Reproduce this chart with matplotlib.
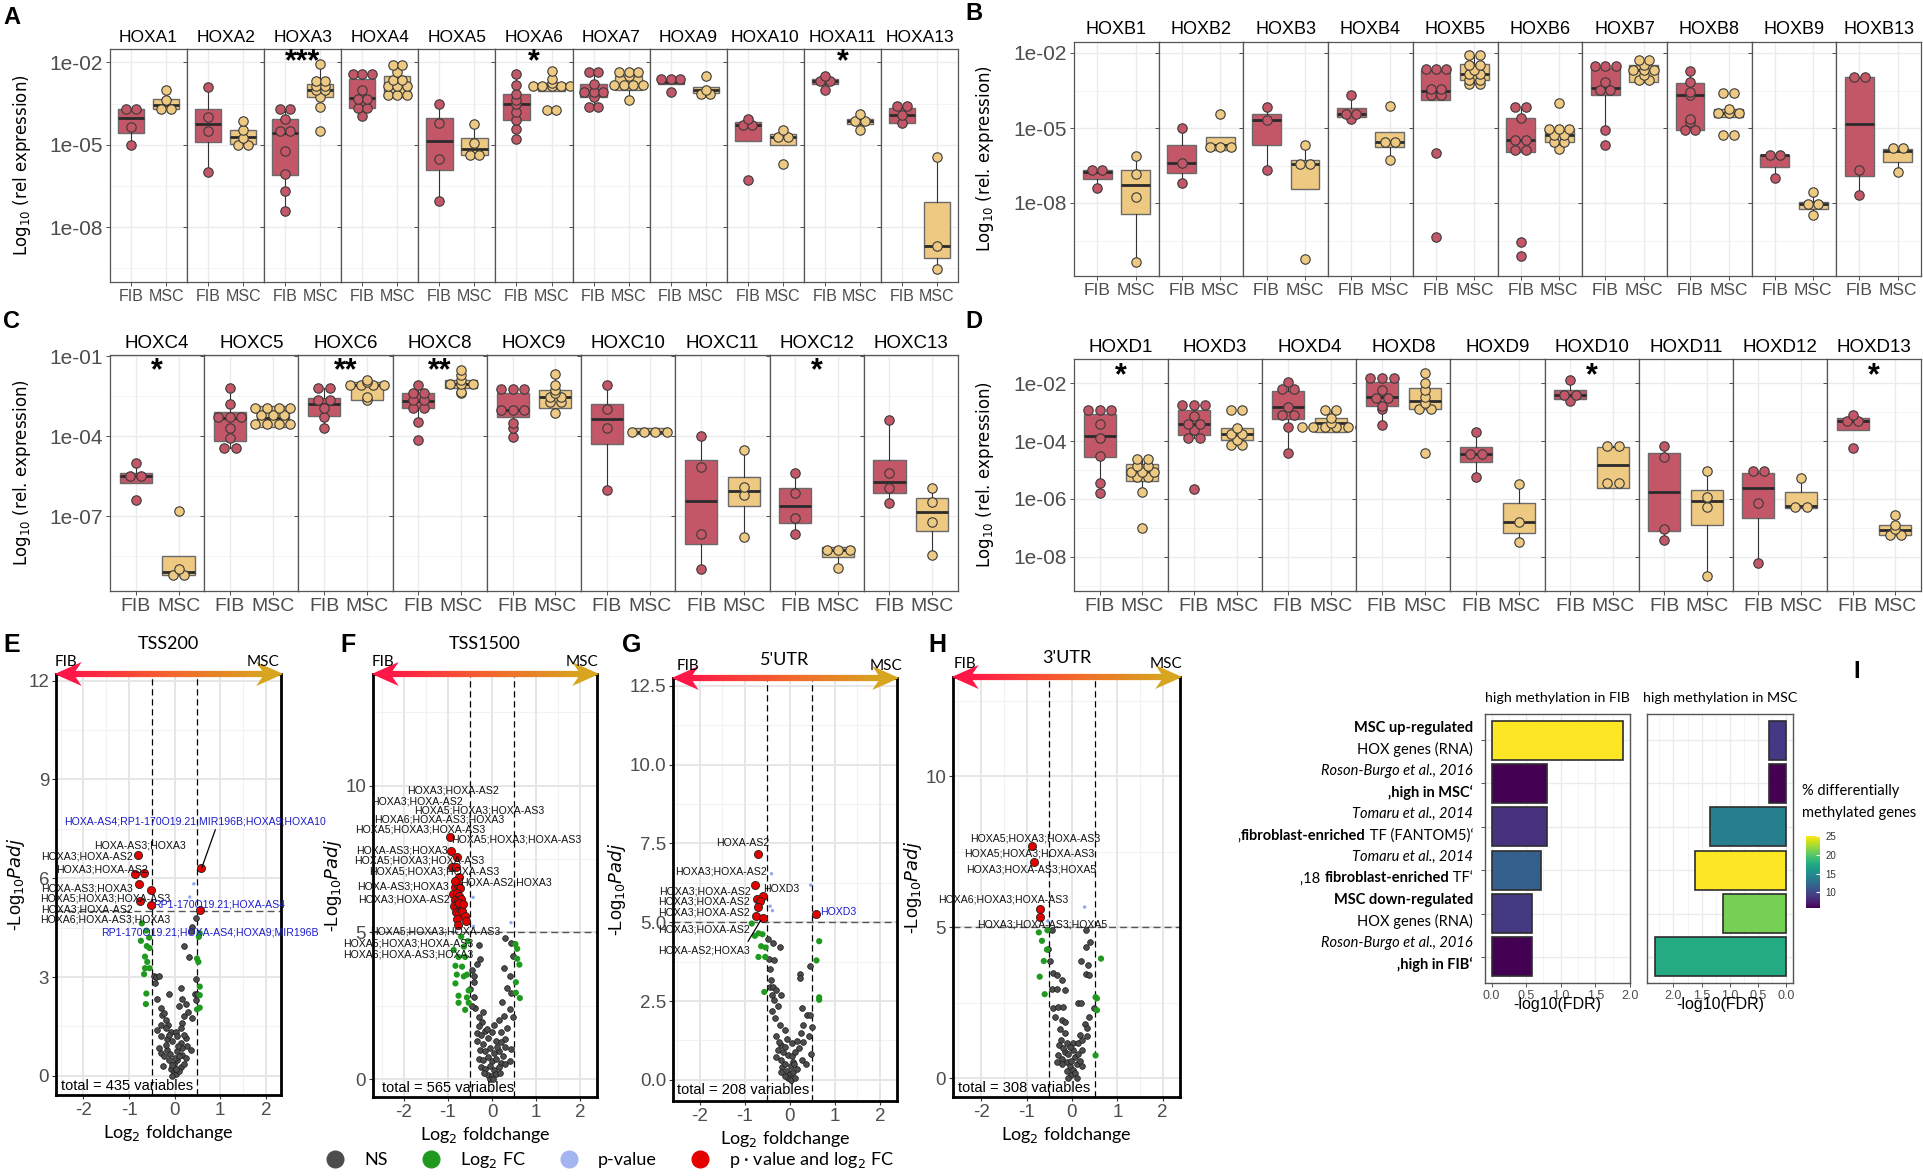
import numpy as np
import matplotlib
matplotlib.use("Agg")
import matplotlib.pyplot as plt
from matplotlib.lines import Line2D
from matplotlib.collections import LineCollection
from matplotlib.patches import Polygon
from matplotlib.colors import LinearSegmentedColormap, Normalize
import matplotlib.cm as cm

plt.rcParams['font.family'] = ['Liberation Sans', 'DejaVu Sans']

# ---------------- data: HOX expression, log10(rel. expression) ----------------
# box = [q1, median, q3]
A_genes = ["HOXA1", "HOXA2", "HOXA3", "HOXA4", "HOXA5", "HOXA6", "HOXA7", "HOXA9", "HOXA10", "HOXA11", "HOXA13"]
A_fib_box = [[-4.56, -4.02, -3.68], [-4.90, -4.26, -3.71], [-6.09, -4.56, -4.07], [-3.65, -3.29, -2.59],
             [-5.91, -4.88, -4.02], [-4.11, -3.52, -3.16], [-3.26, -3.07, -2.77], [-2.77, -2.71, -2.59],
             [-4.88, -4.29, -4.17], [-2.79, -2.68, -2.59], [-4.20, -3.93, -3.65]]
A_msc_box = [[-3.71, -3.54, -3.32], [-4.96, -4.72, -4.45], [-3.26, -2.99, -2.77], [-3.26, -2.87, -2.50],
             [-5.39, -5.15, -4.74], [-3.04, -2.87, -2.74], [-2.99, -2.83, -2.50], [-3.11, -3.01, -2.91],
             [-5.00, -4.70, -4.60], [-4.23, -4.13, -4.05], [-9.11, -8.68, -7.07]]
A_fib_pts = [[-3.68, -3.68, -4.35, -5.00],
             [-2.91, -3.99, -4.51, -6.00],
             [-3.68, -3.68, -4.07, -4.51, -4.51, -5.21, -6.06, -6.67, -7.40],
             [-2.43, -2.43, -2.43, -3.01, -3.32, -3.32, -3.65, -3.65, -3.95],
             [-3.50, -4.21, -5.51, -7.04],
             [-2.43, -2.83, -3.16, -3.38, -3.52, -3.80, -4.11, -4.41, -4.78],
             [-2.34, -2.34, -2.77, -3.07, -3.07, -3.07, -3.26, -3.62, -3.62],
             [-2.62, -2.62, -2.62, -3.07],
             [-4.05, -4.29, -4.29, -6.30],
             [-2.50, -2.68, -2.68, -3.01],
             [-3.60, -3.60, -3.93, -4.20]]
A_msc_pts = [[-2.99, -3.38, -3.68, -3.68],
             [-4.13, -4.45, -4.75, -5.00, -5.00],
             [-2.04, -2.68, -2.68, -2.87, -2.87, -3.01, -3.01, -3.26, -3.62, -4.48],
             [-2.10, -2.10, -2.34, -2.65, -2.65, -2.87, -2.87, -2.87, -3.20, -3.20, -3.20],
             [-4.26, -4.93, -5.39, -5.39],
             [-2.30, -2.59, -2.74, -2.87, -2.87, -2.87, -2.87, -2.87, -3.74, -3.74],
             [-2.34, -2.34, -2.34, -2.50, -2.83, -2.83, -2.83, -2.83, -3.38],
             [-2.50, -3.01, -3.16, -3.16],
             [-4.45, -4.70, -4.70, -5.70],
             [-3.87, -4.13, -4.13, -4.45],
             [-5.45, -8.68, -9.54]]
A_stars = {"HOXA3": "***", "HOXA6": "*", "HOXA11": "*"}

B_genes = ["HOXB1", "HOXB2", "HOXB3", "HOXB4", "HOXB5", "HOXB6", "HOXB7", "HOXB8", "HOXB9", "HOXB13"]
B_fib_box = [[-7.05, -6.76, -6.69], [-6.80, -6.40, -5.69], [-5.69, -4.67, -4.43], [-4.56, -4.43, -4.20],
             [-3.87, -3.52, -2.67], [-5.96, -5.49, -4.59], [-3.67, -3.39, -2.60], [-5.07, -3.69, -3.20],
             [-6.56, -6.09, -6.07], [-6.93, -4.85, -2.96]]
B_msc_box = [[-8.43, -7.29, -6.67], [-5.89, -5.69, -5.36], [-7.43, -6.45, -6.27], [-5.76, -5.56, -5.17],
             [-3.07, -2.85, -2.43], [-5.56, -5.29, -5.03], [-3.16, -2.69, -2.49], [-4.56, -4.40, -4.23],
             [-8.23, -8.05, -7.96], [-6.36, -5.92, -5.83]]
B_fib_pts = [[-6.69, -6.69, -7.40],
             [-5.00, -6.40, -7.20],
             [-4.16, -4.67, -6.69],
             [-3.69, -4.43, -4.43, -4.63],
             [-2.63, -2.63, -2.63, -3.43, -3.43, -3.69, -3.69, -6.00, -9.36],
             [-4.16, -4.16, -4.59, -5.49, -5.49, -5.87, -5.87, -9.56, -10.13],
             [-2.53, -2.53, -2.53, -3.16, -3.49, -3.49, -5.07, -5.69],
             [-2.72, -3.16, -3.56, -3.69, -4.63, -4.76, -5.07, -5.07],
             [-6.07, -6.07, -6.99],
             [-2.96, -2.96, -6.69, -7.69]]
B_msc_pts = [[-6.13, -6.85, -7.76, -10.36],
             [-4.45, -5.76, -5.76, -5.76],
             [-5.67, -6.45, -6.45, -10.23],
             [-4.13, -5.56, -5.56, -6.27],
             [-2.09, -2.09, -2.47, -2.47, -2.67, -2.85, -2.85, -3.07, -3.07, -3.25, -3.25],
             [-4.00, -5.03, -5.03, -5.03, -5.29, -5.29, -5.56, -5.56, -5.83],
             [-2.29, -2.29, -2.49, -2.69, -2.69, -2.69, -2.89, -3.07, -3.07],
             [-3.60, -3.60, -4.23, -4.40, -4.40, -4.40, -5.29, -5.29],
             [-7.56, -8.05, -8.05, -8.49],
             [-5.79, -5.79, -6.76]]
B_stars = {}

C_genes = ["HOXC4", "HOXC5", "HOXC6", "HOXC8", "HOXC9", "HOXC10", "HOXC11", "HOXC12", "HOXC13"]
C_fib_box = [[-5.75, -5.50, -5.40], [-4.18, -3.34, -3.09], [-3.24, -2.78, -2.56], [-2.93, -2.68, -2.38],
             [-3.30, -3.03, -2.40], [-4.28, -3.36, -2.78], [-8.03, -6.44, -4.88], [-7.25, -6.63, -5.96],
             [-6.15, -5.74, -4.90]]
C_msc_box = [[-9.21, -9.09, -8.49], [-3.65, -3.34, -2.88], [-2.65, -2.09, -1.96], [-2.21, -2.05, -1.90],
             [-2.96, -2.55, -2.28], [-3.93, -3.84, -3.71], [-6.63, -6.06, -5.53], [-8.53, -8.28, -8.15],
             [-7.55, -6.86, -6.34]]
C_fib_pts = [[-5.00, -5.50, -5.50, -6.40],
             [-2.21, -2.78, -3.28, -3.28, -3.28, -3.71, -4.09, -4.46, -4.46],
             [-2.21, -2.21, -2.65, -2.65, -2.96, -3.28, -3.71],
             [-2.09, -2.38, -2.38, -2.65, -2.65, -2.93, -2.93, -3.46, -4.13],
             [-2.25, -2.25, -2.25, -3.03, -3.03, -3.03, -3.50, -3.71, -4.03],
             [-2.09, -3.00, -3.71, -6.03],
             [-4.00, -5.15, -7.69, -9.00],
             [-5.40, -6.15, -7.09, -7.69],
             [-3.40, -5.40, -5.96, -6.50]]
C_msc_pts = [[-6.81, -9.00, -9.21, -9.21],
             [-2.93, -2.93, -2.93, -2.93, -3.21, -3.21, -3.21, -3.53, -3.53, -3.53, -3.53],
             [-1.88, -1.96, -2.09, -2.09, -2.09, -2.09, -2.53, -2.65],
             [-1.53, -1.71, -1.90, -2.05, -2.05, -2.05, -2.34, -2.40],
             [-1.69, -2.09, -2.28, -2.40, -2.55, -2.55, -2.71, -2.71, -3.13],
             [-3.84, -3.84, -3.84, -3.84],
             [-4.53, -5.90, -6.21, -7.78],
             [-8.28, -8.28, -8.28, -8.93],
             [-5.96, -6.46, -7.21, -8.46]]
C_stars = {"HOXC4": "*", "HOXC6": "**", "HOXC8": "**", "HOXC12": "*"}

D_genes = ["HOXD1", "HOXD3", "HOXD4", "HOXD8", "HOXD9", "HOXD10", "HOXD11", "HOXD12", "HOXD13"]
D_fib_box = [[-4.54, -3.82, -3.07], [-3.79, -3.41, -2.92], [-3.25, -2.81, -2.27], [-2.78, -2.48, -1.97],
             [-4.71, -4.45, -4.21], [-2.55, -2.40, -2.25], [-7.13, -5.78, -4.42], [-6.67, -5.63, -5.09],
             [-3.61, -3.30, -3.19]]
D_msc_box = [[-5.37, -5.06, -4.80], [-3.96, -3.75, -3.56], [-3.67, -3.36, -3.21], [-2.90, -2.63, -2.17],
             [-7.17, -6.81, -6.15], [-5.61, -4.83, -4.21], [-6.90, -6.09, -5.69], [-6.33, -6.24, -5.78],
             [-7.25, -7.07, -6.90]]
D_fib_pts = [[-2.92, -2.92, -2.92, -3.42, -3.90, -4.51, -5.44, -5.81],
             [-2.75, -2.75, -2.75, -3.15, -3.41, -3.41, -3.61, -3.90, -3.90, -5.67],
             [-1.94, -2.21, -2.21, -2.81, -3.10, -3.10, -3.52, -4.42],
             [-1.83, -1.83, -1.83, -2.23, -2.52, -2.52, -2.78, -2.90, -3.44],
             [-3.70, -4.45, -4.45, -5.23],
             [-1.88, -2.40, -2.40, -2.60],
             [-4.17, -4.54, -7.05, -7.42],
             [-5.02, -5.02, -6.15, -8.23],
             [-3.10, -3.30, -3.30, -4.25]]
D_msc_pts = [[-4.63, -4.63, -4.86, -4.86, -5.06, -5.06, -5.06, -5.25, -5.25, -5.75, -7.02],
             [-2.92, -2.92, -3.56, -3.75, -3.75, -3.96, -4.13, -4.13],
             [-2.92, -2.92, -3.21, -3.36, -3.52, -3.52, -3.52, -3.52, -3.52, -3.52],
             [-1.65, -1.98, -2.25, -2.48, -2.69, -2.90, -2.90, -4.40],
             [-5.48, -6.81, -7.51],
             [-4.17, -4.17, -5.46, -5.46],
             [-5.02, -5.92, -6.27, -8.67],
             [-5.29, -6.27, -6.27],
             [-6.56, -6.90, -7.05, -7.25, -7.25]]
D_stars = {"HOXD1": "*", "HOXD10": "*", "HOXD13": "*"}

# ---------------- data: volcano plots (log2 FC, -log10 padj) ----------------
E_ns = [(-0.45, 3.03), (-0.40, 3.00), (-0.34, 3.03), (-0.43, 2.82), (-0.38, 2.34), (-0.31, 2.07), (-0.28, 1.85),
        (-0.23, 1.91), (-0.20, 1.70), (-0.12, 2.50), (-0.15, 1.55), (0.13, 2.66), (0.17, 2.34), (0.09, 2.13),
        (0.24, 2.18), (0.20, 1.81), (0.17, 1.60), (0.30, 1.95), (0.39, 1.76), (0.46, 4.79), (0.39, 4.52),
        (0.35, 4.41), (0.20, 3.94), (0.31, 3.62), (0.46, 2.93), (0.44, 2.50), (0.49, 2.50), (0.46, 2.29),
        (-0.31, 1.54), (-0.20, 1.44), (-0.09, 1.33), (0.02, 1.33), (0.13, 1.44), (0.06, 1.22), (-0.16, 1.12),
        (-0.05, 1.06), (0.13, 1.01), (0.28, 0.90), (0.35, 0.80), (0.25, 1.15), (-0.31, 0.69), (-0.23, 0.59),
        (-0.12, 0.48), (-0.01, 0.37), (0.06, 0.48), (0.17, 0.64), (0.24, 0.53), (-0.09, 0.21), (-0.01, 0.11),
        (0.02, 0.05), (-0.16, 0.80), (-0.34, 0.85), (0.13, 0.27), (0.09, 0.16), (-0.05, 0.32), (-0.20, 0.95),
        (0.05, 0.75), (0.15, 0.85), (-0.10, 0.65), (0.00, 0.55), (0.10, 0.60), (-0.25, 0.30), (0.20, 0.35),
        (-0.05, 0.00), (0.03, 0.20), (0.08, 0.90), (-0.12, 1.25), (0.20, 1.25), (-0.30, 1.20), (-0.38, 1.40)]
E_fc = [(-0.72, 4.63), (-0.62, 4.41), (-0.74, 4.10), (-0.56, 4.20), (-0.61, 3.94), (-0.55, 3.88), (-0.65, 3.62),
        (-0.60, 3.46), (-0.65, 3.27), (-0.55, 3.27), (-0.67, 3.09), (-0.62, 2.50), (-0.63, 2.18), (0.53, 4.22),
        (0.55, 4.33), (0.49, 3.56), (0.52, 3.46), (0.55, 2.71), (0.55, 2.45), (0.55, 2.07), (0.49, 2.02)]
E_pv = [(0.42, 5.83), (0.33, 5.43)]
E_sig = [(-0.81, 6.70), (-0.87, 6.12), (-0.68, 6.15), (-0.78, 5.83), (-0.52, 5.64), (-0.77, 5.32),
         (-0.51, 5.19), (0.57, 6.30), (0.55, 5.05)]
E_labels = [(0.45, 7.71, "HOXA-AS4;RP1-170O19.21;MIR196B;HOXA9;HOXA10", "blue"),
            (-0.75, 6.99, "HOXA-AS3;HOXA3", "black"),
            (-1.93, 6.65, "HOXA3;HOXA-AS2", "black"),
            (-1.60, 6.26, "HOXA3;HOXA-AS2", "black"),
            (-1.93, 5.69, "HOXA-AS3;HOXA3", "black"),
            (-1.51, 5.37, "HOXA5;HOXA3;HOXA-AS3", "black"),
            (-1.93, 5.05, "HOXA3;HOXA-AS2", "black"),
            (-1.51, 4.76, "HOXA6;HOXA-AS3;HOXA3", "black"),
            (0.98, 5.19, "RP1-170O19.21;HOXA-AS4", "blue"),
            (0.78, 4.36, "RP1-170O19.21;HOXA-AS4;HOXA9;MIR196B", "blue")]
E_lines = [((0.89, 7.47), (0.59, 6.30))]

F_ns = [(-0.30, 4.57), (-0.27, 4.10), (-0.34, 3.92), (-0.42, 3.50), (-0.49, 3.08), (-0.42, 2.78), (-0.38, 2.42),
        (-0.30, 2.12), (-0.23, 1.94), (-0.15, 1.64), (-0.34, 1.58), (0.30, 4.81), (0.44, 4.63), (0.48, 4.20),
        (0.27, 3.78), (0.33, 3.12), (0.44, 2.94), (0.23, 2.64), (0.40, 2.40), (0.28, 2.16), (0.48, 2.10),
        (0.33, 1.74), (0.44, 1.02), (0.30, 1.38), (0.40, 0.60), (-0.45, 3.70), (-0.40, 3.30), (-0.45, 2.50),
        (-0.20, 2.30), (0.15, 2.00), (0.40, 3.50), (0.20, 1.60), (-0.30, 1.80), (-0.25, 1.50), (-0.35, 1.30),
        (-0.20, 1.20), (-0.10, 1.40), (0.00, 1.60), (0.10, 1.30), (0.20, 1.25), (0.30, 1.10), (-0.28, 1.00),
        (-0.15, 0.95), (-0.05, 1.05), (0.05, 0.90), (0.15, 0.95), (0.25, 0.80), (-0.30, 0.70), (-0.20, 0.65),
        (-0.10, 0.75), (0.00, 0.60), (0.10, 0.70), (0.20, 0.55), (0.30, 0.50), (-0.25, 0.40), (-0.15, 0.35),
        (-0.05, 0.45), (0.05, 0.30), (0.15, 0.40), (-0.10, 0.15), (0.00, 0.10), (0.08, 0.18), (-0.04, 0.02),
        (0.03, 0.00), (-0.18, 0.20), (0.18, 0.20), (0.12, 1.10), (-0.12, 1.70), (0.05, 1.85)]
F_fc = [(-0.87, 4.40), (-0.64, 4.51), (-0.76, 4.16), (-0.61, 4.16), (-0.83, 3.86), (-0.68, 3.83), (-0.57, 3.56),
        (-0.80, 3.56), (-0.64, 3.50), (-0.83, 3.26), (-0.53, 3.02), (-0.76, 2.84), (-0.57, 2.78), (-0.53, 2.60),
        (-0.76, 2.60), (-0.61, 2.36), (-0.55, 4.70), (-0.70, 4.85), (0.57, 4.44), (0.57, 4.10), (0.62, 3.90),
        (0.54, 3.30), (0.54, 2.94), (0.63, 2.76), (0.53, 4.60)]
F_pv = [(-0.43, 6.19), (-0.42, 5.20), (0.43, 5.33)]
F_sig = [(-0.95, 8.25), (-0.92, 7.76), (-0.80, 7.57), (-0.91, 7.22), (-0.81, 7.22), (-0.76, 6.90), (-0.85, 6.55),
         (-0.78, 6.60), (-0.72, 6.50), (-0.88, 6.30), (-0.80, 6.35), (-0.74, 6.25), (-0.84, 6.10), (-0.77, 6.05),
         (-0.70, 6.12), (-0.86, 5.90), (-0.79, 5.85), (-0.72, 5.92), (-0.82, 5.70), (-0.75, 5.65), (-0.68, 5.72),
         (-0.80, 5.45), (-0.62, 5.55), (-0.78, 5.25), (-0.60, 5.40), (-0.83, 6.75), (-0.74, 6.00), (-0.66, 5.95)]
F_labels = [(-0.88, 9.84, "HOXA3;HOXA-AS2", "black"),
            (-1.70, 9.47, "HOXA3;HOXA-AS2", "black"),
            (-0.29, 9.15, "HOXA5;HOXA3;HOXA-AS3", "black"),
            (-1.20, 8.84, "HOXA6;HOXA-AS3;HOXA3", "black"),
            (-1.62, 8.50, "HOXA5;HOXA3;HOXA-AS3", "black"),
            (0.54, 8.16, "HOXA5;HOXA3;HOXA-AS3", "black"),
            (-2.05, 7.78, "HOXA-AS3;HOXA3", "black"),
            (-1.64, 7.44, "HOXA5;HOXA3;HOXA-AS3", "black"),
            (-1.30, 7.06, "HOXA5;HOXA3;HOXA-AS3", "black"),
            (0.32, 6.70, "HOXA-AS2;HOXA3", "black"),
            (-2.01, 6.56, "HOXA-AS3;HOXA3", "black"),
            (-1.99, 6.11, "HOXA3;HOXA-AS2", "black"),
            (-1.28, 5.03, "HOXA5;HOXA3;HOXA-AS3", "black"),
            (-1.90, 4.63, "HOXA5;HOXA3;HOXA-AS3", "black"),
            (-1.89, 4.26, "HOXA6;HOXA-AS3;HOXA3", "black")]
F_lines = []

G_ns = [(-0.48, 4.46), (-0.38, 4.35), (-0.22, 4.20), (-0.46, 3.85), (-0.36, 3.79), (-0.44, 3.51), (-0.43, 3.18),
        (-0.44, 2.96), (-0.37, 2.96), (-0.31, 2.85), (-0.41, 2.68), (-0.19, 2.68), (-0.26, 2.35), (-0.33, 1.96),
        (-0.22, 1.74), (-0.11, 1.57), (-0.30, 1.40), (-0.07, 1.29), (0.04, 1.18), (0.15, 1.24), (0.26, 2.29),
        (0.37, 2.07), (0.44, 2.07), (0.30, 1.74), (0.48, 1.68), (0.43, 1.40), (0.44, 3.62), (0.22, 3.35),
        (0.22, 3.24), (0.46, 0.82), (0.26, 0.62), (0.07, 0.57), (-0.19, 0.62), (-0.30, 0.73), (-0.26, 0.96),
        (-0.17, 0.40), (-0.07, 0.29), (0.00, 0.18), (-0.04, 0.07), (0.03, 0.01), (0.07, 0.24), (0.15, 0.35),
        (-0.11, 0.12), (-0.19, 0.24), (0.11, 0.07), (-0.15, 0.90), (-0.05, 0.80), (0.05, 0.75), (0.12, 0.90),
        (-0.20, 1.10), (-0.10, 1.05), (0.20, 1.00), (0.30, 1.20), (0.35, 0.50), (-0.12, 0.50), (0.02, 0.45),
        (0.10, 0.50), (-0.25, 1.20), (0.25, 1.50), (-0.40, 2.20), (-0.36, 2.55)]
G_fc = [(-0.85, 4.96), (-0.70, 4.65), (-0.61, 4.62), (-0.78, 4.57), (-0.64, 4.24), (-0.54, 4.20), (-0.70, 3.90),
        (-0.55, 3.90), (-0.57, 2.79), (0.65, 4.40), (0.59, 3.79), (0.65, 2.62), (0.65, 2.54)]
G_pv = [(-0.41, 6.54), (-0.44, 5.51), (-0.39, 5.37), (0.46, 6.18)]
G_sig = [(-0.72, 7.18), (-0.77, 6.18), (-0.74, 5.74), (-0.60, 5.82), (-0.66, 5.68), (-0.72, 5.48), (-0.76, 5.20),
         (-0.60, 5.15), (0.59, 5.27)]
G_labels = [(-1.06, 7.51, "HOXA-AS2", "black"),
            (-1.53, 6.62, "HOXA3;HOXA-AS2", "black"),
            (-1.89, 5.97, "HOXA3;HOXA-AS2", "black"),
            (-0.19, 6.06, "HOXD3", "black"),
            (-1.90, 5.66, "HOXA3;HOXA-AS2", "black"),
            (-1.92, 5.31, "HOXA3;HOXA-AS2", "black"),
            (-1.92, 4.78, "HOXA3;HOXA-AS2", "black"),
            (-1.91, 4.12, "HOXA-AS2;HOXA3", "black"),
            (1.08, 5.34, "HOXD3", "blue")]
G_lines = [((-0.93, 4.40), (-0.65, 5.06))]

H_ns = [(-0.45, 4.90), (-0.53, 4.28), (-0.49, 3.88), (-0.41, 3.47), (-0.33, 3.41), (-0.21, 3.26), (-0.45, 2.95),
        (-0.34, 2.95), (-0.15, 2.93), (-0.41, 2.31), (-0.30, 2.37), (-0.19, 2.37), (-0.38, 2.02), (-0.23, 1.91),
        (-0.15, 1.85), (-0.27, 1.62), (-0.15, 1.50), (-0.24, 1.27), (-0.29, 1.10), (-0.12, 1.15), (0.03, 1.15),
        (0.14, 1.15), (0.22, 1.27), (0.33, 1.39), (0.31, 4.92), (0.31, 4.34), (0.40, 4.51), (0.20, 3.88),
        (0.35, 3.76), (0.31, 3.45), (0.37, 3.41), (0.13, 2.49), (0.20, 2.49), (0.37, 2.02), (0.48, 2.31),
        (0.29, 1.79), (0.33, 1.67), (0.18, 1.44), (-0.30, 0.75), (-0.21, 0.63), (-0.12, 0.52), (-0.04, 0.40),
        (0.03, 0.28), (-0.01, 0.11), (0.07, 0.17), (0.11, 0.46), (0.18, 0.57), (0.07, 0.69), (-0.15, 0.86),
        (-0.08, 0.78), (0.14, 0.81), (0.03, 0.92), (-0.23, 0.46), (-0.10, 0.23), (-0.04, 1.04), (-0.19, 0.98),
        (0.22, 0.92), (-0.34, 0.52), (0.22, 0.40), (-0.01, 0.57), (0.11, 0.00), (-0.08, 0.00)]
H_fc = [(-0.73, 4.83), (-0.54, 4.90), (-0.66, 4.55), (-0.55, 4.26), (-0.62, 3.88), (-0.71, 3.36), (-0.60, 2.78),
        (0.64, 3.96), (0.52, 2.68), (0.55, 2.64), (0.55, 2.25), (0.52, 0.75)]
H_pv = [(0.28, 5.67), (-0.53, 5.21)]
H_sig = [(-0.88, 7.68), (-0.84, 7.18), (-0.71, 5.62), (-0.70, 5.33)]
H_labels = [(-0.80, 7.94, "HOXA5;HOXA3;HOXA-AS3", "black"),
            (-0.94, 7.45, "HOXA5;HOXA3;HOXA-AS3", "black"),
            (-0.90, 6.93, "HOXA3;HOXA-AS3;HOXA5", "black"),
            (-1.51, 5.91, "HOXA6;HOXA3;HOXA-AS3", "black"),
            (-0.65, 5.10, "HOXA3;HOXA-AS3;HOXA5", "black")]
H_lines = []

# ---------------- data: enrichment bars (panel I) ----------------
I_fib_fdr = [1.90, 0.80, 0.80, 0.71, 0.58, 0.58]
I_fib_pct = [25.0, 5.8, 8.5, 11.5, 9.0, 5.8]
I_msc_fdr = [0.30, 0.31, 1.35, 1.61, 1.12, 2.32]
I_msc_pct = [9.0, 5.8, 14.0, 25.0, 21.0, 17.5]
I_lines = [[("MSC up-regulated", "bold", "normal")],
           [("HOX genes (RNA)", "normal", "normal")],
           [("Roson-Burgo et al., 2016", "normal", "italic")],
           [("\u201ahigh in MSC\u2018", "bold", "normal")],
           [("Tomaru et al., 2014", "normal", "italic")],
           [("\u201a", "normal", "normal"), ("fibroblast-enriched", "bold", "normal"), (" TF (FANTOM5)\u2018", "normal", "normal")],
           [("Tomaru et al., 2014", "normal", "italic")],
           [("\u201a18 ", "normal", "normal"), ("fibroblast-enriched", "bold", "normal"), (" TF\u2018", "normal", "normal")],
           [("MSC down-regulated", "bold", "normal")],
           [("HOX genes (RNA)", "normal", "normal")],
           [("Roson-Burgo et al., 2016", "normal", "italic")],
           [("\u201ahigh in FIB\u2018", "bold", "normal")]]

# ---------------- figure ----------------
W, H = 1923, 1176
fig = plt.figure(figsize=(W / 100, H / 100), dpi=100)
fig.patch.set_facecolor("white")


def px_axes(l, t, r, b):
    return fig.add_axes([l / W, 1 - b / H, (r - l) / W, (b - t) / H])


def fig_text(x, y, s, **kw):
    return fig.text(x / W, 1 - y / H, s, **kw)


FIB_COL = "#C45767"
MSC_COL = "#EEC981"
GRID = "#EBEBEB"


def box_stats(q, pts):
    q1, med, q3 = q
    iqr = q3 - q1
    inside = [p for p in pts if q1 - 1.5 * iqr <= p <= q3 + 1.5 * iqr]
    return dict(q1=q1, med=med, q3=q3, whislo=min(inside + [q1]), whishi=max(inside + [q3]), fliers=[])


def dots(ax, x0, pts, color, d=0.27):
    vals, counts = np.unique(np.round(pts, 2), return_counts=True)
    for v, c in zip(vals, counts):
        xs = x0 + (np.arange(c) - (c - 1) / 2) * d
        ax.scatter(xs, [v] * c, s=46, c=color, edgecolors="#3A3A3A", linewidths=0.8, zorder=4)


def facet_panel(l, t, r, b, genes, fib_q, msc_q, fib_p, msc_p, ylim, yticks, yminor, stars, star_y,
                strip_y, strip_fs, xt_fs, ylab, ylab_x):
    n = len(genes)
    w = (r - l) / n
    for i, g in enumerate(genes):
        ax = px_axes(l + i * w, t, l + (i + 1) * w, b)
        ax.set_xlim(0.4, 2.6)
        ax.set_ylim(*ylim)
        for y in yminor:
            ax.axhline(y, color="#F3F3F3", lw=0.6, zorder=0)
        for y in yticks:
            ax.axhline(y, color=GRID, lw=1.0, zorder=0)
        for x in (1, 2):
            ax.axvline(x, color=GRID, lw=1.0, zorder=0)
        for x0, q, p, col in ((1, fib_q[i], fib_p[i], FIB_COL), (2, msc_q[i], msc_p[i], MSC_COL)):
            ax.bxp([box_stats(q, p)], positions=[x0], widths=0.75, patch_artist=True, showfliers=False,
                   showcaps=False,
                   boxprops=dict(facecolor=col, edgecolor="#6A6A6A", linewidth=1.0),
                   medianprops=dict(color="#2B2B2B", linewidth=2.0),
                   whiskerprops=dict(color="#333333", linewidth=0.8), zorder=2)
            dots(ax, x0, p, col)
        if g in stars:
            ax.text(1.5, star_y, stars[g], ha="center", va="center", fontsize=22, fontweight="bold", zorder=5)
        ax.set_xticks([1, 2])
        ax.set_xticklabels(["FIB", "MSC"], fontsize=xt_fs, color="#4D4D4D")
        ax.set_yticks(yticks)
        if i == 0:
            ax.set_yticklabels(["1e-%02d" % (-v) for v in yticks], fontsize=15, color="#4D4D4D")
        else:
            ax.set_yticklabels([])
            ax.tick_params(axis="y", length=0)
        ax.tick_params(axis="both", color="#4D4D4D", width=0.7, length=3, pad=2)
        for s in ax.spines.values():
            s.set_color("#555555")
            s.set_linewidth(0.9)
        fig_text(l + (i + 0.5) * w, strip_y, g, ha="center", va="center", fontsize=strip_fs)
    fig_text(ylab_x, (t + b) / 2, ylab, rotation=90, ha="center", va="center", fontsize=12,
             family="DejaVu Sans")


facet_panel(110, 49, 958, 282, A_genes, A_fib_box, A_msc_box, A_fib_pts, A_msc_pts, (-10.0, -1.51),
            [-2, -5, -8], [-3.5, -6.5, -9.5], A_stars, -2.0, 37, 12.5, 11.5,
            "Log$_{10}$ (rel expression)", 22)
facet_panel(1074, 42, 1921, 276, B_genes, B_fib_box, B_msc_box, B_fib_pts, B_msc_pts, (-10.92, -1.56),
            [-2, -5, -8], [-3.5, -6.5, -9.5], B_stars, -1.9, 30, 13, 12.5,
            "Log$_{10}$ (rel. expression)", 985)
facet_panel(110, 355, 958, 591, C_genes, C_fib_box, C_msc_box, C_fib_pts, C_msc_pts, (-9.81, -0.96),
            [-1, -4, -7], [-2.5, -5.5, -8.5], C_stars, -1.58, 343, 13.5, 14,
            "Log$_{10}$ (rel. expression)", 22)
facet_panel(1074, 359, 1921, 591, D_genes, D_fib_box, D_msc_box, D_fib_pts, D_msc_pts, (-9.19, -1.16),
            [-2, -4, -6, -8], [-3, -5, -7, -9], D_stars, -1.77, 348, 13.5, 14,
            "Log$_{10}$ (rel. expression)", 985)

for letter, x, y in (("A", 3, 17), ("B", 965, 14), ("C", 3, 322), ("D", 965, 322)):
    fig_text(x, y, letter, fontsize=17, fontweight="bold", va="center", ha="left")

# ---------------- volcano plots ----------------
ARROW_CMAP = LinearSegmentedColormap.from_list("arrow", ["#FF1747", "#F4632E", "#D7A51F"])


def top_arrow(ax, l, t, r, b):
    aw, ah = r - l, b - t
    hl, hh = 27 / aw, 12 / ah
    xl, xr = -0.006, 1.01
    xs = np.linspace(xl + hl * 0.6, xr - hl * 0.6, 90)
    segs = [[(xs[k], 1.0), (xs[k + 1], 1.0)] for k in range(len(xs) - 1)]
    lc = LineCollection(segs, colors=ARROW_CMAP(np.linspace(0, 1, len(segs))), linewidths=4.5,
                        transform=ax.transAxes, clip_on=False, zorder=8, capstyle="butt")
    ax.add_collection(lc, autolim=False)
    for tip, sgn, c in ((xl, 1, ARROW_CMAP(0.0)), (xr, -1, ARROW_CMAP(1.0))):
        ax.add_patch(Polygon([(tip, 1.0), (tip + sgn * hl, 1.0 + hh), (tip + sgn * hl * 0.7, 1.0),
                              (tip + sgn * hl, 1.0 - hh)], closed=True, facecolor=c, edgecolor="none",
                             transform=ax.transAxes, clip_on=False, zorder=9))


def volcano(l, t, r, b, xlim, ylim, yticks, ytl, yminor, ns, fc, pv, sig, labels, lines, total,
            title, title_y, fib_x, msc_x, lab_y):
    ax = px_axes(l, t, r, b)
    ax.set_xlim(*xlim)
    ax.set_ylim(*ylim)
    for x in (-2.5, -1.5, -0.5, 0.5, 1.5):
        ax.axvline(x, color="#F2F2F2", lw=0.8, zorder=0)
    for y in yminor:
        ax.axhline(y, color="#F2F2F2", lw=0.8, zorder=0)
    for x in (-2, -1, 0, 1, 2):
        ax.axvline(x, color="#E6E6E6", lw=1.4, zorder=0)
    for y in yticks:
        ax.axhline(y, color="#E6E6E6", lw=1.4, zorder=0)
    ax.axvline(-0.5, color="black", lw=0.9, ls=(0, (5, 3)), zorder=1)
    ax.axvline(0.5, color="black", lw=0.9, ls=(0, (5, 3)), zorder=1)
    ax.axhline(5, color="#555555", lw=1.0, ls=(0, (5, 3)), zorder=1)
    ns, fc, pv, sig = (np.array(a) for a in (ns, fc, pv, sig))
    ax.scatter(ns[:, 0], ns[:, 1], s=17, c="#4D4D4D", edgecolors="#1A1A1A", linewidths=0.5, zorder=3)
    ax.scatter(fc[:, 0], fc[:, 1], s=20, c="#1F9A1F", edgecolors="none", zorder=3)
    ax.scatter(pv[:, 0], pv[:, 1], s=6, c="#92A8EE", edgecolors="none", zorder=3)
    ax.scatter(sig[:, 0], sig[:, 1], s=34, c="#E50000", edgecolors="#222222", linewidths=0.6, zorder=4)
    for (x0, y0), (x1, y1) in lines:
        ax.plot([x0, x1], [y0, y1], color="black", lw=0.9, zorder=5)
    for x, y, s, c in labels:
        ax.text(x, y, s, ha="center", va="center", fontsize=7.6, color="#1C1CCC" if c == "blue" else "#111111",
                zorder=6, clip_on=False)
    ax.text(-2.5, -0.32, "total = %d variables" % total, ha="left", va="center", fontsize=10.5, zorder=6)
    ax.set_xticks([-2, -1, 0, 1, 2])
    ax.set_xticklabels(["-2", "-1", "0", "1", "2"], fontsize=13.5, color="#4D4D4D")
    ax.set_yticks(yticks)
    ax.set_yticklabels(ytl, fontsize=13.5, color="#4D4D4D")
    ax.tick_params(axis="both", color="#333333", width=0.8, length=3, pad=2)
    for s in ax.spines.values():
        s.set_color("black")
        s.set_linewidth(2.0)
    ax.set_xlabel("Log$_2$ foldchange", fontsize=13, family=["Lato", "DejaVu Sans"], labelpad=3)
    ax.set_ylabel("-Log$_{10}$$\\it{Padj}$", fontsize=13, labelpad=1)
    top_arrow(ax, l, t, r, b)
    fig_text((l + r) / 2, title_y, title, ha="center", va="center", fontsize=13, family=["Lato", "DejaVu Sans"])
    fig_text(fib_x, lab_y, "FIB", ha="center", va="center", fontsize=11, family=["Lato", "DejaVu Sans"])
    fig_text(msc_x, lab_y, "MSC", ha="center", va="center", fontsize=11, family=["Lato", "DejaVu Sans"])
    return ax


volcano(56, 674, 281, 1095, (-2.6, 2.33), (-0.58, 12.2), [0, 3, 6, 9, 12], ["0", "3", "6", "9", "12"],
        [1.5, 4.5, 7.5, 10.5], E_ns, E_fc, E_pv, E_sig, E_labels, E_lines, 435, "TSS200", 644, 66, 263, 662)
volcano(373, 674, 597, 1097, (-2.7, 2.38), (-0.61, 13.8), [0, 5, 10], ["0", "5", "10"],
        [2.5, 7.5, 12.5], F_ns, F_fc, F_pv, F_sig, F_labels, F_lines, 565, "TSS1500", 644, 383, 582, 662)
volcano(673, 678, 897, 1101, (-2.6, 2.38), (-0.67, 12.75), [0, 2.5, 5, 7.5, 10, 12.5],
        ["0.0", "2.5", "5.0", "7.5", "10.0", "12.5"], [1.25, 3.75, 6.25, 8.75, 11.25],
        G_ns, G_fc, G_pv, G_sig, G_labels, G_lines, 208, "5'UTR", 660, 688, 886, 666)
volcano(953, 677, 1180, 1097, (-2.62, 2.38), (-0.63, 13.3), [0, 5, 10], ["0", "5", "10"],
        [2.5, 7.5, 12.5], H_ns, H_fc, H_pv, H_sig, H_labels, H_lines, 308, "3'UTR", 658, 965, 1166, 664)

for letter, x, y in (("E", 3, 645), ("F", 340, 645), ("G", 622, 645), ("H", 928, 645)):
    fig_text(x, y, letter, fontsize=18, fontweight="bold", va="center", ha="left")

leg_handles = [Line2D([], [], ls="", marker="o", markersize=12, markerfacecolor=c, markeredgecolor=c)
               for c in ("#4D4D4D", "#1F9A1F", "#A3B4F0", "#E50000")]
fig.legend(leg_handles, ["NS", "Log$_2$ FC", "p-value", "p \u00b7 value and log$_2$ FC"], loc="center",
           bbox_to_anchor=(606 / W, 1 - 1160 / H), ncol=4, frameon=False,
           prop=dict(family=["Lato", "DejaVu Sans"], size=13), handletextpad=0.6, columnspacing=1.4)

# ---------------- panel I ----------------
norm = Normalize(vmin=5.8, vmax=25)
cmap = plt.get_cmap("viridis")
pos = np.arange(6, 0, -1)


def enrich_axes(l, t, r, b, fdr, pct, xlim, title):
    ax = px_axes(l, t, r, b)
    ax.set_xlim(*xlim)
    ax.set_ylim(0.4, 6.6)
    for x in (0.25, 0.75, 1.25, 1.75, 2.25):
        ax.axvline(x, color="#F3F3F3", lw=0.6, zorder=0)
    for x in (0, 0.5, 1, 1.5, 2):
        ax.axvline(x, color=GRID, lw=1.0, zorder=0)
    for y in pos:
        ax.axhline(y, color=GRID, lw=1.0, zorder=0)
    ax.barh(pos, fdr, height=0.9, color=cmap(norm(np.array(pct))), edgecolor="#2E2E2E", linewidth=1.2, zorder=2)
    ax.set_xticks([0, 0.5, 1, 1.5, 2])
    ax.set_xticklabels(["0.0", "0.5", "1.0", "1.5", "2.0"], fontsize=9, color="#4D4D4D")
    ax.set_yticks(pos)
    ax.set_yticklabels([])
    ax.tick_params(axis="both", color="#555555", width=0.7, length=3, pad=2)
    for s in ax.spines.values():
        s.set_color("#555555")
        s.set_linewidth(1.0)
    fig_text((l + r) / 2, t - 16, title, ha="center", va="center", fontsize=10.3, family=["Lato", "DejaVu Sans"])
    fig_text((l + r) / 2, 1004, "-log10(FDR)", ha="center", va="center", fontsize=11.5)
    return ax


enrich_axes(1485, 714, 1630, 983, I_fib_fdr, I_fib_pct, (-0.095, 1.995), "high methylation in FIB")
ax_r = enrich_axes(1647, 714, 1793, 983, I_msc_fdr, I_msc_pct, (2.47, -0.12), "high methylation in MSC")
ax_r.tick_params(axis="y", length=0)

renderer = fig.canvas.get_renderer()
line_y0, line_dy = 728, 21.5
for k, segs in enumerate(I_lines):
    x = 1473
    y = line_y0 + k * line_dy
    for txt, wt, st in reversed(segs):
        tt = fig_text(x, y, txt, ha="right", va="center", fontsize=10.5, fontweight=wt, fontstyle=st,
                      family=["Lato", "DejaVu Sans"])
        x -= tt.get_window_extent(renderer).width

cax = px_axes(1806, 836, 1820, 908)
cb = fig.colorbar(cm.ScalarMappable(norm=norm, cmap=cmap), cax=cax)
cb.outline.set_visible(False)
cb.set_ticks([10, 15, 20, 25])
cb.ax.tick_params(labelsize=7, color="white", length=3, direction="in", pad=4, labelcolor="#333333")
fig_text(1802, 791, "% differentially", ha="left", va="center", fontsize=10.5, family=["Lato", "DejaVu Sans"])
fig_text(1802, 813, "methylated genes", ha="left", va="center", fontsize=10.5, family=["Lato", "DejaVu Sans"])
fig_text(1853, 672, "I", fontsize=17, fontweight="bold", va="center", ha="left")

fig.savefig("out.png", dpi=100, facecolor="white")
